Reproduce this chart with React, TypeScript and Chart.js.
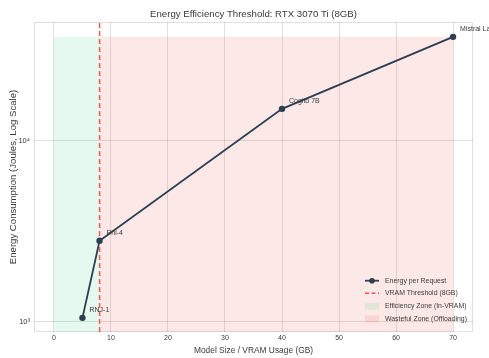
import React, { useEffect, useRef } from 'react';
import { Chart, registerables } from 'chart.js';

Chart.register(...registerables);

// ---- data ----
const modelNames = ['RNJ-1', 'Phi-4', 'Cogito 7B', 'Mistral Large 2'];
const vramUsageGB = [5, 8, 40, 70];
const energyJoules = [1050, 2800, 15000, 37500];
const xTickValues = [0, 10, 20, 30, 40, 50, 60, 70];
const yTickValues = [1000, 10000];
const yTickLabels = ['10³', '10⁴'];
const vramThresholdGB = 8;
const xRange = [-3.5, 73.5];
const yRange = [877, 45300];
const chartTitle = 'Energy Efficiency Threshold: RTX 3070 Ti (8GB)';
const legendLabels = [
  'Energy per Request',
  'VRAM Threshold (8GB)',
  'Efficiency Zone (In-VRAM)',
  'Wasteful Zone (Offloading)',
];

const FONT = "'Liberation Sans', Arial, sans-serif";
const LINE = '#2c3e50';
const RED = '#f65a4e';
const GREEN_FILL = 'rgba(46, 204, 113, 0.12)';
const RED_FILL = 'rgba(231, 76, 60, 0.12)';
const GRID = 'rgba(0,0,0,0.12)';
const TEXT = '#3a3a3a';

export default function App() {
  const ref = useRef<HTMLCanvasElement | null>(null);

  useEffect(() => {
    if (!ref.current) return;
    const maxE = Math.max(...energyJoules);
    const maxX = Math.max(...vramUsageGB);

    const extras = {
      id: 'extras',
      beforeDatasetsDraw(chart: any) {
        const { ctx, chartArea: a } = chart;
        ctx.save();
        ctx.strokeStyle = GRID;
        ctx.lineWidth = 1;
        ctx.strokeRect(a.left + 0.5, a.top + 0.5, a.right - a.left - 1, a.bottom - a.top - 1);
        ctx.restore();
      },
      afterDatasetsDraw(chart: any) {
        const { ctx, chartArea: a } = chart;
        const meta = chart.getDatasetMeta(0);
        ctx.save();
        // title
        ctx.font = `9.65px ${FONT}`;
        ctx.fillStyle = TEXT;
        ctx.textAlign = 'center';
        ctx.textBaseline = 'middle';
        ctx.fillText(chartTitle, (a.left + a.right) / 2, 14);
        // annotations
        ctx.font = `7px ${FONT}`;
        ctx.textAlign = 'left';
        meta.data.forEach((pt: any, i: number) => {
          ctx.fillText(modelNames[i], pt.x + 7, pt.y - 7.5);
        });
        // legend
        const lx = 365;
        const ys = [280.7, 293.3, 306.3, 319];
        ctx.font = `6.9px ${FONT}`;
        legendLabels.forEach((t, i) => ctx.fillText(t, lx + 20, ys[i]));
        ctx.strokeStyle = LINE;
        ctx.lineWidth = 1.8;
        ctx.beginPath();
        ctx.moveTo(lx, ys[0]);
        ctx.lineTo(lx + 14, ys[0]);
        ctx.stroke();
        ctx.fillStyle = LINE;
        ctx.beginPath();
        ctx.arc(lx + 7, ys[0], 2.8, 0, Math.PI * 2);
        ctx.fill();
        ctx.strokeStyle = RED;
        ctx.lineWidth = 1.5;
        ctx.setLineDash([4, 2.5]);
        ctx.beginPath();
        ctx.moveTo(lx, ys[1]);
        ctx.lineTo(lx + 14, ys[1]);
        ctx.stroke();
        ctx.setLineDash([]);
        ctx.fillStyle = GREEN_FILL;
        ctx.fillRect(lx, ys[2] - 3.5, 14, 7);
        ctx.fillStyle = RED_FILL;
        ctx.fillRect(lx, ys[3] - 3.5, 14, 7);
        ctx.restore();
      },
    };

    const chart = new Chart(ref.current, {
      type: 'line',
      data: {
        datasets: [
          {
            label: legendLabels[0],
            data: vramUsageGB.map((x, i) => ({ x, y: energyJoules[i] })),
            borderColor: LINE,
            backgroundColor: LINE,
            borderWidth: 1.8,
            pointRadius: 3.2,
            pointBackgroundColor: LINE,
            pointBorderWidth: 0,
            fill: false,
            order: 0,
          },
          {
            label: legendLabels[1],
            data: [
              { x: vramThresholdGB, y: yRange[0] },
              { x: vramThresholdGB, y: yRange[1] },
            ],
            borderColor: RED,
            backgroundColor: RED,
            borderWidth: 1.5,
            borderDash: [5, 3],
            pointRadius: 0,
            fill: false,
            order: 1,
          },
          {
            label: legendLabels[2],
            data: [
              { x: 0, y: maxE },
              { x: vramThresholdGB, y: maxE },
            ],
            borderWidth: 1,
            borderColor: 'rgba(0,0,0,0)',
            backgroundColor: GREEN_FILL,
            pointRadius: 0,
            fill: 'start',
            order: 2,
          },
          {
            label: legendLabels[3],
            data: [
              { x: vramThresholdGB, y: maxE },
              { x: maxX, y: maxE },
            ],
            borderWidth: 1,
            borderColor: 'rgba(0,0,0,0)',
            backgroundColor: RED_FILL,
            pointRadius: 0,
            fill: 'start',
            order: 3,
          },
        ],
      },
      options: {
        responsive: false,
        animation: false,
        layout: { padding: { top: 22, right: 16, left: 0, bottom: 0 } },
        plugins: {
          legend: { display: false },
          tooltip: { enabled: false },
          title: { display: false },
        },
        scales: {
          x: {
            type: 'linear',
            min: xRange[0],
            max: xRange[1],
            afterBuildTicks: (s: any) => {
              s.ticks = xTickValues.map((v) => ({ value: v }));
            },
            afterFit: (s: any) => {
              s.height = 26;
            },
            ticks: {
              color: TEXT,
              font: { family: FONT, size: 7 },
              padding: 2,
              maxRotation: 0,
              autoSkip: false,
            },
            grid: { color: GRID, drawTicks: false },
            border: { display: false },
            title: {
              display: true,
              text: 'Model Size / VRAM Usage (GB)',
              color: TEXT,
              font: { family: FONT, size: 8.4 },
              padding: { top: 0, bottom: 1.8 },
            },
          },
          y: {
            type: 'logarithmic',
            min: yRange[0],
            max: yRange[1],
            afterBuildTicks: (s: any) => {
              s.ticks = yTickValues.map((v) => ({ value: v }));
            },
            afterFit: (s: any) => {
              s.width = 34;
            },
            ticks: {
              color: TEXT,
              font: { family: FONT, size: 7.5 },
              padding: 4,
              autoSkip: false,
              callback: (_v: any, i: number) => yTickLabels[i],
            },
            grid: { color: GRID, drawTicks: false },
            border: { display: false },
            title: {
              display: true,
              text: 'Energy Consumption (Joules, Log Scale)',
              color: TEXT,
              font: { family: FONT, size: 9.6 },
              padding: { top: 7.3, bottom: 0 },
            },
          },
        },
      },
      plugins: [extras],
    } as any);
    return () => chart.destroy();
  }, []);

  return (
    <div style={{ position: 'fixed', left: 0, top: 0, width: 489, height: 358, background: '#fff' }}>
      <canvas ref={ref} width={489} height={358} />
    </div>
  );
}
